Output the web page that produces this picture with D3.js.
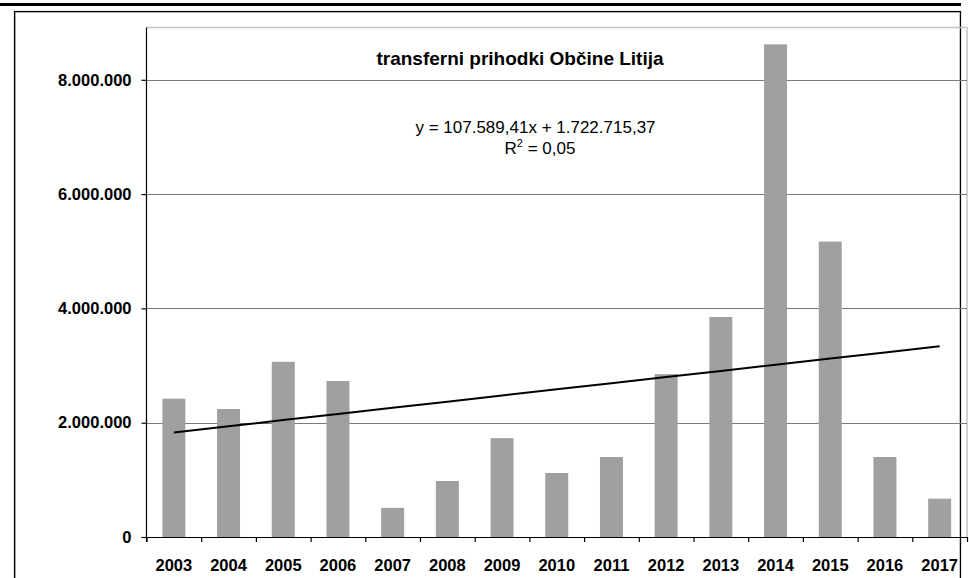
<!DOCTYPE html>
<html>
<head>
<meta charset="utf-8">
<script src="https://cdn.jsdelivr.net/npm/d3@7"></script>
<style>
  html, body { margin: 0; padding: 0; background: #fff; }
  svg { display: block; font-family: Arial, "Liberation Sans", sans-serif; }
</style>
</head>
<body>
<svg id="chart" width="969" height="578"></svg>
<script>
// ---- data ----
const years = ["2003","2004","2005","2006","2007","2008","2009","2010","2011","2012","2013","2014","2015","2016","2017"];
const values = [2420000, 2240000, 3065000, 2730000, 510000, 980000, 1730000, 1120000, 1400000, 2850000, 3850000, 8620000, 5170000, 1400000, 670000];
const yTicks = [0, 2000000, 4000000, 6000000, 8000000];
const trendSlope = 107589.41;
const trendIntercept = 1722715.37;
const chartTitle = "transferni prihodki Občine Litija";
const equationText = "y = 107.589,41x + 1.722.715,37";
const r2Value = " = 0,05";

// ---- layout ----
const svg = d3.select("#chart");
const pLeft = 146.5, pRight = 967, pTop = 27.5, pBottom = 537;
const yMax = (pBottom - pTop) / 57.15 * 1e6;

const x = d3.scaleBand().domain(years).range([pLeft, pRight]).paddingInner(0.58).paddingOuter(0.29);
const xb = d3.scaleLinear().domain([0, years.length]).range([pLeft, pRight]);
const y = d3.scaleLinear().domain([0, yMax]).range([pBottom, pTop]);

const loc = d3.formatLocale({decimal: ",", thousands: ".", grouping: [3], currency: ["", ""]});
const fmt = loc.format(",d");

// top thick rule and frame
svg.append("rect").attr("x", 0).attr("y", 3).attr("width", 961).attr("height", 3).attr("fill", "#000");
svg.append("rect").attr("x", 15.5).attr("y", 12.5).attr("width", 944.5).attr("height", 600)
  .attr("fill", "none").attr("stroke", "#bbb").attr("stroke-width", 1);
svg.append("rect").attr("x", 14.5).attr("y", 11.5).attr("width", 946).attr("height", 600)
  .attr("fill", "none").attr("stroke", "#000").attr("stroke-width", 1.2);

// plot area border (top / right grey)
svg.append("path").attr("d", `M${pLeft},${pTop}H${pRight}V${pBottom}`)
  .attr("fill", "none").attr("stroke", "#c4c4c4").attr("stroke-width", 1.5);

// gridlines
svg.append("g").selectAll("line").data(yTicks.filter(d => d > 0)).join("line")
  .attr("x1", pLeft).attr("x2", pRight)
  .attr("y1", d => Math.round(y(d)) + 0.5).attr("y2", d => Math.round(y(d)) + 0.5)
  .attr("stroke", "#7a7a7a").attr("stroke-width", 1.2);

// bars
svg.append("g").selectAll("rect").data(values).join("rect")
  .attr("x", (d, i) => x(years[i]))
  .attr("width", x.bandwidth())
  .attr("y", d => y(d))
  .attr("height", d => pBottom - y(d))
  .attr("fill", "#a0a0a0");

// trend line
const trend = years.map((yr, i) => [x(yr) + x.bandwidth() / 2, y(trendSlope * (i + 1) + trendIntercept)]);
svg.append("path").attr("d", d3.line()(trend)).attr("stroke", "#000").attr("stroke-width", 2).attr("fill", "none");

// y axis
const yAxis = svg.append("g").attr("transform", `translate(${pLeft},0)`)
  .call(d3.axisLeft(y).tickValues(yTicks).tickSize(5).tickPadding(10).tickFormat(fmt));
yAxis.select(".domain").attr("d", `M0,${pTop}V${pBottom + 5}`).attr("stroke", "#000").attr("stroke-width", 1.2);
yAxis.selectAll(".tick line").attr("stroke", "#000").attr("stroke-width", 1.2);
yAxis.selectAll("text").attr("font-size", "16.5px").attr("font-weight", "bold").attr("fill", "#000")
  .attr("font-family", "Arial, 'Liberation Sans', sans-serif");

// x axis: boundary ticks
const xTickAxis = svg.append("g").attr("transform", `translate(0,${pBottom})`)
  .call(d3.axisBottom(xb).tickValues(d3.range(0, years.length + 1)).tickSize(5).tickFormat(""));
xTickAxis.select(".domain").attr("d", `M${pLeft},0.5H${pRight}`).attr("stroke", "#000").attr("stroke-width", 1.2);
xTickAxis.selectAll(".tick line").attr("stroke", "#000").attr("stroke-width", 1.2);

// x axis: labels
const xLabelAxis = svg.append("g").attr("transform", `translate(0,${pBottom})`)
  .call(d3.axisBottom(x).tickSize(0).tickPadding(22));
xLabelAxis.select(".domain").remove();
xLabelAxis.selectAll("text").attr("font-size", "16.5px").attr("font-weight", "bold").attr("fill", "#000")
  .attr("font-family", "Arial, 'Liberation Sans', sans-serif");

// title
svg.append("text").attr("x", 520).attr("y", 65).attr("text-anchor", "middle")
  .attr("font-size", "19px").attr("font-weight", "bold").text(chartTitle);

// equation
svg.append("text").attr("x", 535.5).attr("y", 133).attr("text-anchor", "middle")
  .attr("font-size", "17px").text(equationText);
const r2 = svg.append("text").attr("x", 540).attr("y", 154).attr("text-anchor", "middle").attr("font-size", "17px");
r2.append("tspan").text("R");
r2.append("tspan").attr("font-size", "11px").attr("dy", -7).text("2");
r2.append("tspan").attr("dy", 7).text(r2Value);
</script>
</body>
</html>
